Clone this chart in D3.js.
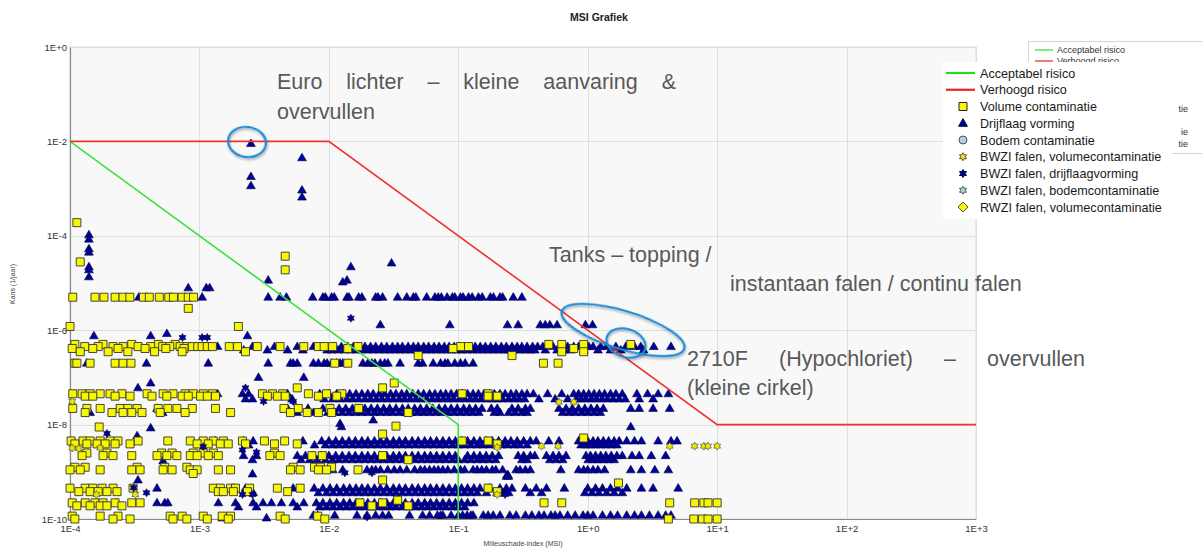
<!DOCTYPE html>
<html><head><meta charset="utf-8">
<script src="https://cdn.jsdelivr.net/npm/d3@7/dist/d3.min.js"></script>
<style>body{margin:0;background:#fff;overflow:hidden}svg{display:block;font-family:"Liberation Sans",Arial,sans-serif}</style>
</head><body><svg id="chart" width="1202" height="548"></svg>
<script>
// ---------- data ----------
const title = "MSI Grafiek";
const xTicks = [1e-4, 1e-3, 1e-2, 1e-1, 1, 10, 100, 1000];
const xTickLabels = ["1E-4", "1E-3", "1E-2", "1E-1", "1E+0", "1E+1", "1E+2", "1E+3"];
const yTicks = [1, 1e-2, 1e-4, 1e-6, 1e-8, 1e-10];
const yTickLabels = ["1E+0", "1E-2", "1E-4", "1E-6", "1E-8", "1E-10"];
const xTitle = "Milieuschade-index (MSI)";
const yTitle = "Kans (1/jaar)";

const acceptabelX = [1e-4, 1e-1, 1e-1];
const acceptabelY = [1e-2, 1e-8, 1e-10];
const verhoogdX = [1e-4, 1e-2, 10, 1000];
const verhoogdY = [1e-2, 1e-2, 1e-8, 1e-8];

const legendLabels = ["Acceptabel risico", "Verhoogd risico", "Volume contaminatie", "Drijflaag vorming",
  "Bodem contaminatie", "BWZI falen, volumecontaminatie", "BWZI falen, drijflaagvorming",
  "BWZI falen, bodemcontaminatie", "RWZI falen, volumecontaminatie"];
// fragments of the partly hidden (second) legend that remain visible
const hiddenLegendTails = [{row: 5, text: "tie"}, {row: 7, text: "ie"}, {row: 8, text: "tie"}];

// Drijflaag vorming (triangles): rows of equal probability
const drijflaagRows = [
  {y: 9e-3, x: [2.5e-3]},
  {y: 4.5e-3, x: [6.2e-3]},
  {y: 1.8e-3, x: [2.5e-3]},
  {y: 1.15e-3, x: [2.5e-3]},
  {y: 9.3e-4, x: [6.2e-3]},
  {y: 6.6e-4, x: [6.2e-3]},
  {y: 1.05e-4, x: [1.4e-4]},
  {y: 8.5e-5, x: [1.4e-4]},
  {y: 5.3e-5, x: [1.4e-4]},
  {y: 4.5e-5, x: [1.4e-4]},
  {y: 2.65e-5, x: [3.05e-2]},
  {y: 2.2e-5, x: [1.4e-4, 1.48e-2]},
  {y: 1.9e-5, x: [1.4e-4]},
  {y: 1.35e-5, x: [1.4e-4]},
  {y: 1.15e-5, x: [3.4e-3, 1.38e-2]},
  {y: 1.05e-5, x: [1.28e-2]},
  {y: 7.9e-6, x: [8.2e-4, 1.13e-3, 1.2e-3]},
  {y: 5e-6, x: [3.4e-4, 1.05e-3, 3.4e-3, 4.2e-3, 4.7e-3, 7.5e-3, 9.0e-3, 9.4e-3, 1.05e-2, 1.1e-2, 1.38e-2, 1.43e-2, 1.7e-2, 1.8e-2, 2.3e-2, 2.4e-2, 2.6e-2, 3.4e-2, 4.0e-2, 4.5e-2, 4.7e-2, 5.7e-2, 6.6e-2, 7.0e-2, 7.4e-2, 8.2e-2, 9.0e-2, 9.4e-2, 0.104, 0.109, 0.12, 0.128, 0.143, 0.153, 0.177, 0.187, 0.21, 0.22, 0.266, 0.31]},
  {y: 1.3e-6, x: [2.5e-2, 8.6e-2, 0.24, 0.29, 0.43, 0.47, 0.51, 0.58, 0.96, 1.09]},
  {y: 8.5e-7, x: [5.6e-4]},
  {y: 7.6e-7, x: [1.53e-4, 4.2e-4, 2.35e-3]},
  {y: 4.5e-7, x: [1.38e-3, 2.57e-3, 3.8e-3, 5.7e-3, 7.6e-3, 1.1e-2, 1.25e-2, 1.4e-2, 1.55e-2, 1.7e-2, 1.9e-2, 2.1e-2, 2.3e-2, 2.55e-2, 2.8e-2, 3.1e-2, 3.4e-2, 3.7e-2, 4.1e-2, 4.5e-2, 4.9e-2, 5.4e-2, 5.9e-2, 6.5e-2, 7.1e-2, 7.8e-2, 8.5e-2, 9.3e-2, 0.102, 0.112, 0.123, 0.135, 0.148, 0.162, 0.178, 0.195, 0.215, 0.235, 0.26, 0.285, 0.31, 0.34, 0.375, 0.41, 0.45, 0.54, 0.62, 0.7, 0.78, 0.85, 1.02, 1.1, 1.26, 1.4, 1.65, 1.97, 2.3, 2.57, 3.24, 4.4]},
  {y: 3.8e-7, x: [2.2e-3, 3.35e-3, 4.8e-3, 6.3e-3, 9.7e-3, 1.05e-2, 1.18e-2, 1.32e-2, 1.48e-2, 1.62e-2, 1.8e-2, 2.0e-2, 2.2e-2, 2.45e-2, 2.7e-2, 2.95e-2, 3.25e-2, 3.55e-2, 3.9e-2, 4.3e-2, 4.7e-2, 5.15e-2, 5.65e-2, 6.2e-2, 6.8e-2, 7.45e-2, 8.1e-2, 8.9e-2, 9.7e-2, 0.107, 0.117, 0.129, 0.141, 0.155, 0.17, 0.186, 0.205, 0.225, 0.245, 0.27, 0.3, 0.33, 0.36, 0.39, 0.47, 0.58, 0.66, 0.74, 0.93, 1.2, 1.5, 1.8, 2.7]},
  {y: 2e-7, x: [1.35e-4, 3.9e-4, 1.17e-3, 3.4e-3, 5.05e-3, 5.3e-3, 5.7e-3, 7.6e-3, 8.3e-3, 9.2e-3, 9.7e-3, 1.05e-2, 1.15e-2, 1.22e-2, 1.28e-2, 1.83e-2, 2.0e-2, 2.15e-2, 2.27e-2, 2.5e-2, 2.7e-2, 2.86e-2, 3.55e-2, 4.9e-2, 5.3e-2, 6.4e-2, 7.3e-2, 7.9e-2, 8.3e-2, 9.4e-2, 0.104, 0.113, 0.13]},
  {y: 1e-7, x: [2.86e-3, 6.4e-3]},
  {y: 7.6e-8, x: [4.2e-4]},
  {y: 6e-8, x: [3.35e-4]},
  {y: 4.5e-8, x: [1.38e-3, 2.15e-3, 2.4e-3, 4.8e-3, 8.5e-3, 1.0e-2, 1.15e-2, 1.3e-2, 1.45e-2, 1.62e-2, 1.8e-2, 2.0e-2, 2.2e-2, 2.45e-2, 2.7e-2, 3.0e-2, 3.3e-2, 3.65e-2, 4.0e-2, 4.45e-2, 4.9e-2, 5.4e-2, 6.0e-2, 6.6e-2, 7.3e-2, 8.0e-2, 8.8e-2, 9.7e-2, 0.107, 0.118, 0.13, 0.143, 0.158, 0.174, 0.19, 0.21, 0.23, 0.255, 0.28, 0.31, 0.34, 0.38, 0.49, 0.63, 0.78, 0.85, 0.93, 1.02, 1.12, 1.23, 1.35, 1.5, 1.65, 1.85, 2.4, 2.9, 3.5, 4.2]},
  {y: 3.5e-8, x: [2.27e-3, 2.57e-3, 5.2e-3, 9.2e-3, 1.07e-2, 1.22e-2, 1.38e-2, 1.53e-2, 1.7e-2, 1.9e-2, 2.1e-2, 2.33e-2, 2.57e-2, 2.85e-2, 3.15e-2, 3.5e-2, 3.85e-2, 4.25e-2, 4.7e-2, 5.15e-2, 5.7e-2, 6.3e-2, 6.95e-2, 7.65e-2, 8.4e-2, 9.2e-2, 0.102, 0.112, 0.124, 0.136, 0.15, 0.166, 0.182, 0.2, 0.22, 0.245, 0.27, 0.295, 0.325, 0.42, 0.56, 0.7, 0.82, 0.89, 0.97, 1.07, 1.17, 1.29, 1.42, 1.57, 1.75, 1.95, 2.5, 3.2]},
  {y: 2.2e-8, x: [4.7e-4, 4.8e-3, 6.9e-3, 9.0e-3, 1.05e-2, 1.2e-2, 1.35e-2, 1.52e-2, 1.7e-2, 1.9e-2, 2.12e-2, 2.37e-2, 2.65e-2, 2.95e-2, 3.3e-2, 3.7e-2, 4.1e-2, 4.6e-2, 5.1e-2, 5.7e-2, 6.35e-2, 7.1e-2, 7.9e-2, 8.8e-2, 9.8e-2, 0.11, 0.122, 0.136, 0.152, 0.18, 0.2, 0.26, 0.29, 0.33, 0.36, 0.6, 0.68, 0.76, 0.85, 0.95, 1.06, 1.18, 1.32, 2.15, 2.5, 3.2, 4.3]},
  {y: 1.8e-8, x: [1.43e-4, 5.2e-4, 5.7e-3, 7.6e-3, 9.8e-3, 1.12e-2, 1.27e-2, 1.43e-2, 1.6e-2, 1.8e-2, 2.0e-2, 2.25e-2, 2.5e-2, 2.8e-2, 3.1e-2, 3.5e-2, 3.9e-2, 4.35e-2, 4.85e-2, 5.4e-2, 6.0e-2, 6.7e-2, 7.5e-2, 8.3e-2, 9.3e-2, 0.104, 0.116, 0.129, 0.144, 0.19, 0.21, 0.245, 0.275, 0.31, 0.34, 0.64, 0.72, 0.8, 0.9, 1.0, 1.12, 1.25]},
  {y: 1.25e-8, x: [2.2e-2]},
  {y: 1.05e-8, x: [1.22e-2]},
  {y: 9e-9, x: [1.25e-2, 2.15]},
  {y: 8.5e-9, x: [4.2e-4]},
  {y: 5.8e-9, x: [3.3e-4]},
  {y: 4.5e-9, x: [1.33e-3, 2.19e-3, 2.6e-3, 6.3e-3, 8.8e-3, 1.0e-2, 1.13e-2, 1.27e-2, 1.43e-2, 1.6e-2, 1.8e-2, 2.0e-2, 2.25e-2, 2.5e-2, 2.8e-2, 3.15e-2, 3.5e-2, 3.9e-2, 4.4e-2, 4.9e-2, 5.5e-2, 6.1e-2, 6.8e-2, 7.6e-2, 8.5e-2, 9.5e-2, 0.106, 0.118, 0.132, 0.147, 0.164, 0.183, 0.205, 0.23, 0.255, 0.285, 0.32, 0.36, 0.4, 0.5, 0.6, 0.85, 0.93, 1.0, 1.1, 1.2, 1.32, 1.45, 1.6, 1.75, 2.0, 2.3, 2.6, 3.5, 4.4, 4.9]},
  {y: 3.7e-9, x: [2.4e-3, 7.75e-3, 9.4e-3, 1.07e-2, 1.2e-2, 1.35e-2, 1.52e-2, 1.7e-2, 1.9e-2, 2.12e-2, 2.37e-2, 2.65e-2, 2.97e-2, 3.3e-2, 3.7e-2, 4.15e-2, 4.65e-2, 5.2e-2, 5.8e-2, 6.45e-2, 7.2e-2, 8.0e-2, 9.0e-2, 0.1, 0.112, 0.125, 0.14, 0.155, 0.173, 0.194, 0.217, 0.24, 0.27, 0.3, 0.34, 0.89, 0.97, 1.05, 1.15, 1.26, 1.38, 1.52, 1.68]},
  {y: 2.2e-9, x: [2.19e-3, 2.76e-3, 5.7e-3, 6.6e-3, 7.6e-3, 8.7e-3, 1.0e-2, 1.13e-2, 1.27e-2, 1.43e-2, 1.6e-2, 1.8e-2, 2.0e-2, 2.25e-2, 2.5e-2, 2.8e-2, 3.15e-2, 3.5e-2, 3.9e-2, 4.4e-2, 4.9e-2, 5.5e-2, 6.1e-2, 6.8e-2, 7.6e-2, 8.5e-2, 9.5e-2, 0.118, 0.132, 0.147, 0.164, 0.183, 0.205, 0.29, 0.32, 0.36, 0.39, 0.48, 0.54, 0.6, 0.68, 0.97, 1.05, 1.15, 1.26, 1.38, 1.52, 1.68, 1.85, 2.2, 2.5, 3.1, 4.0]},
  {y: 1.8e-9, x: [2.57e-3, 6.1e-3, 7.1e-3, 8.1e-3, 9.4e-3, 1.07e-2, 1.2e-2, 1.35e-2, 1.52e-2, 1.7e-2, 1.9e-2, 2.12e-2, 2.37e-2, 2.65e-2, 2.97e-2, 3.3e-2, 3.7e-2, 4.15e-2, 4.65e-2, 5.2e-2, 5.8e-2, 6.45e-2, 7.2e-2, 8.0e-2, 9.0e-2, 0.1, 0.112, 0.125, 0.14, 0.155, 0.173, 0.194, 0.31, 0.34, 0.51, 0.57, 0.64, 1.01, 1.1, 1.2, 1.32, 1.45, 1.6]},
  {y: 1.7e-9, x: [5.24e-4]},
  {y: 1.1e-9, x: [1.07e-2, 1.28e-2, 1.97e-2, 2.15e-2, 2.3e-2, 2.5e-2, 2.85e-2, 3.2e-2, 3.55e-2, 4.0e-2, 4.6e-2, 5.1e-2, 5.5e-2, 6.0e-2, 6.5e-2, 7.0e-2, 7.6e-2, 8.3e-2, 9.3e-2, 0.104, 0.112, 0.13, 0.14, 0.152, 0.165, 0.183, 0.195, 0.22, 0.28, 0.3, 0.33, 0.36, 0.62, 0.85, 0.93, 1.0, 1.1, 1.2, 1.35, 2.15, 2.6, 3.3, 4.2]},
  {y: 9e-10, x: [2.57e-3]},
  {y: 8.6e-10, x: [0.238, 0.242]},
  {y: 8e-10, x: [0.236, 0.244]},
  {y: 6.7e-10, x: [3.35e-4]},
  {y: 4.5e-10, x: [4.7e-4, 2.27e-3, 5.3e-3, 7.7e-3, 9.0e-3, 1.02e-2, 1.15e-2, 1.3e-2, 1.45e-2, 1.62e-2, 1.8e-2, 2.0e-2, 2.25e-2, 2.5e-2, 2.8e-2, 3.15e-2, 3.5e-2, 3.9e-2, 4.4e-2, 4.9e-2, 5.5e-2, 6.1e-2, 6.8e-2, 7.6e-2, 8.5e-2, 9.5e-2, 0.106, 0.118, 0.132, 0.147, 0.175, 0.21, 0.235, 0.26, 0.33, 0.4, 0.48, 0.66, 1.0, 1.15, 1.3, 1.5, 1.7, 2.0, 2.6, 3.2, 5.0]},
  {y: 3.6e-10, x: [2.6e-3, 8.3e-3, 9.6e-3, 1.08e-2, 1.22e-2, 1.37e-2, 1.53e-2, 1.71e-2, 1.9e-2, 2.12e-2, 2.37e-2, 2.65e-2, 2.97e-2, 3.3e-2, 3.7e-2, 4.15e-2, 4.65e-2, 5.2e-2, 5.8e-2, 6.45e-2, 7.2e-2, 8.0e-2, 9.0e-2, 0.1, 0.112, 0.125, 0.14, 0.165, 0.2, 0.225, 0.245, 0.36, 0.44, 0.95, 1.08, 1.22, 1.4, 1.6, 1.85]},
  {y: 2.2e-10, x: [2.3e-4, 4.7e-4, 5.4e-4, 5.7e-4, 1.4e-3, 1.9e-3, 2.6e-3, 3.1e-3, 3.6e-3, 4.3e-3, 5.3e-3, 6.4e-3, 8.0e-3, 9.0e-3, 1.02e-2, 1.15e-2, 1.3e-2, 1.45e-2, 1.62e-2, 1.8e-2, 2.0e-2, 2.25e-2, 2.5e-2, 2.8e-2, 3.15e-2, 3.5e-2, 3.9e-2, 4.4e-2, 4.9e-2, 5.5e-2, 6.1e-2, 6.8e-2, 7.6e-2, 8.5e-2, 9.5e-2, 0.106, 0.118, 0.132]},
  {y: 1.8e-10, x: [2.0e-3, 2.76e-3, 5.7e-3, 8.5e-3, 9.6e-3, 1.08e-2, 1.22e-2, 1.37e-2, 1.53e-2, 1.71e-2, 1.9e-2, 2.12e-2, 2.37e-2, 2.65e-2, 2.97e-2, 3.3e-2, 3.7e-2, 4.15e-2, 4.65e-2, 5.2e-2, 5.8e-2, 6.45e-2, 7.2e-2, 8.0e-2, 9.0e-2, 0.1, 0.112]},
  {y: 1.2e-10, x: [7.6e-3, 8.2e-3, 1.11e-2, 1.65e-2, 1.97e-2, 2.3e-2, 2.6e-2, 2.9e-2, 4.2e-2, 5.3e-2, 6.0e-2, 6.9e-2, 7.3e-2, 7.6e-2, 8.8e-2, 0.1, 0.108, 0.117, 0.125, 0.13, 0.156, 0.17, 0.186, 0.21, 0.25, 0.28, 0.33, 0.37, 0.42, 0.46, 0.52, 0.56, 0.61, 0.7, 0.8, 0.92, 1.0, 1.1, 1.3, 1.5, 1.7, 2.0, 2.3, 2.6, 3.0, 3.5, 4.0, 4.4]},
  {y: 1.05e-10, x: [1.5e-3, 3.3e-3]}
];

// Volume contaminatie (squares)
const volumeRows = [
  {y: 1.9e-4, x: [1.13e-4]},
  {y: 3.7e-5, x: [4.6e-3]},
  {y: 2.8e-5, x: [1.2e-4]},
  {y: 1.9e-5, x: [4.6e-3]},
  {y: 5e-6, x: [1.05e-4, 1.56e-4, 1.83e-4, 2.23e-4, 2.57e-4, 2.9e-4, 3.7e-4, 4.1e-4, 4.9e-4, 5.8e-4, 6.3e-4, 7.35e-4, 8.2e-4, 9.0e-4]},
  {y: 2.9e-6, x: [8.2e-4]},
  {y: 1.2e-6, x: [1e-4, 2.0e-3]},
  {y: 5e-7, x: [1.09e-4, 1.8e-4, 3.0e-4, 4.8e-4, 6.5e-4, 0.5, 0.63, 0.93, 2.15]},
  {y: 4.5e-7, x: [1.3e-4, 1.65e-4, 2.15e-4, 2.57e-4, 3.36e-4, 4.2e-4, 5.2e-4, 5.9e-4, 7.1e-4, 8.0e-4, 8.8e-4, 9.7e-4, 1.05e-3, 1.15e-3, 1.26e-3, 1.7e-3, 1.97e-3, 2.8e-3, 4.2e-3, 6.4e-3, 8.3e-3, 9.2e-3, 1.07e-2, 1.68e-2, 0.104, 0.12]},
  {y: 4.1e-7, x: [1.04e-4, 1.5e-4, 2.35e-4, 3.8e-4, 5.5e-4, 7.6e-4, 1.4e-2, 9.1e-2, 0.78]},
  {y: 3.5e-7, x: [1.2e-4, 1.97e-4, 2.8e-4, 4.5e-4, 7.35e-4, 2.27e-3, 0.63, 0.93]},
  {y: 2.9e-7, x: [4.9e-2, 0.26]},
  {y: 2e-7, x: [1.09e-4, 1.13e-4, 1.43e-4, 2.23e-4, 2.57e-4, 2.96e-4, 1.11e-2, 1.4e-2, 0.455, 0.59]},
  {y: 7.6e-8, x: [3.2e-2]},
  {y: 6e-8, x: [5.7e-3, 2.6e-2]},
  {y: 4.5e-8, x: [1.05e-4, 1.24e-4, 1.43e-4, 1.71e-4, 2.04e-4, 2.52e-4, 3.94e-4, 5.24e-4, 6.25e-4, 7.75e-4, 8.95e-4, 1.07e-3, 1.26e-3, 3.07e-3, 3.67e-3, 4.4e-3, 6.95e-3, 9.6e-3, 1.26e-2, 0.107, 0.17]},
  {y: 4e-8, x: [1.31e-4, 1.5e-4, 2.23e-4, 2.91e-4, 4.3e-4, 5.6e-4, 7.35e-4, 8.2e-4, 1.02e-3, 1.15e-3, 1.33e-3, 3.35e-3, 4.0e-3, 4.6e-3, 8.3e-3, 1.15e-2, 0.17, 0.2]},
  {y: 2.2e-8, x: [1.05e-4, 1.35e-4, 1.71e-4, 2.44e-4, 2.8e-4, 3.3e-4, 4.8e-4, 5.7e-4, 6.7e-4, 8.8e-4, 1.33e-3, 4.5e-3, 5.8e-3, 1.02e-2, 1.7e-2]},
  {y: 1.8e-8, x: [1.31e-4, 2.11e-4, 2.57e-4, 3.0e-4, 3.6e-4, 4.97e-4, 7.75e-4, 1.74e-3, 5.05e-3, 6.8e-3, 8.3e-3, 1.05e-2, 4.1e-2]},
  {y: 9.3e-9, x: [3.3e-2]},
  {y: 8.9e-9, x: [1.68e-4]},
  {y: 6.3e-9, x: [2.6e-2]},
  {y: 5.2e-9, x: [0.93]},
  {y: 4.5e-9, x: [1.02e-4, 1.26e-4, 1.43e-4, 1.71e-4, 2.04e-4, 2.35e-4, 3.36e-4, 5.7e-4, 8.5e-4, 1.07e-3, 1.28e-3, 1.53e-3, 2.15e-3, 3.18e-3, 4.55e-3, 0.107, 0.17]},
  {y: 3.9e-9, x: [1.09e-4, 1.35e-4, 1.62e-4, 1.87e-4, 2.23e-4, 2.91e-4, 9.6e-4, 1.17e-3, 1.45e-3, 1.67e-3, 2.27e-3, 3.8e-3, 5.7e-3, 0.2]},
  {y: 2.5e-9, x: [1.35e-4, 1.93e-4, 5.1e-4, 6.15e-4, 8.95e-4, 1.07e-3, 1.28e-3, 3.8e-3]},
  {y: 2.2e-9, x: [1.24e-4, 1.8e-4, 2.15e-4, 3.0e-4, 4.7e-4, 5.6e-4, 6.7e-4, 8.5e-4, 9.6e-4, 1.17e-3, 1.4e-3, 3.5e-3, 4.2e-3, 7.4e-3, 8.9e-3, 2.6e-2]},
  {y: 1.8e-9, x: [4.1e-2]},
  {y: 1.25e-9, x: [1.09e-4, 1.31e-4, 3.3e-4, 5.4e-4, 8.0e-4, 5.3e-3, 7.75e-3, 8.6e-3, 1.05e-2]},
  {y: 1.1e-9, x: [1.0e-4, 1.2e-4, 1.71e-4, 3.0e-4, 3.48e-4, 5.24e-4, 6.15e-4, 8.5e-4, 9.6e-4, 1.4e-3, 1.74e-3, 5.05e-3, 6.0e-3, 8.3e-3, 9.6e-3, 1.68e-2]},
  {y: 9.2e-10, x: [8.95e-4]},
  {y: 6.7e-10, x: [2.6e-2]},
  {y: 5.8e-10, x: [1.73]},
  {y: 4.5e-10, x: [1.0e-4, 1.31e-4, 1.5e-4, 1.77e-4, 2.15e-4, 3.07e-4, 1.28e-3, 1.45e-3, 1.74e-3, 1.9e-3, 2.44e-3, 4.0e-3, 6.0e-3, 0.17]},
  {y: 3.8e-10, x: [1.17e-4, 1.43e-4, 1.65e-4, 1.93e-4, 2.31e-4, 1.4e-3, 1.53e-3, 1.83e-3, 2.35e-3, 4.8e-3, 0.2]},
  {y: 2.5e-10, x: [3.4e-2]},
  {y: 2.2e-10, x: [1.04e-4, 1.31e-4, 1.56e-4, 1.8e-4, 2.23e-4, 3.0e-4, 3.48e-4, 1.74e-2, 2.6e-2, 0.46, 0.63, 4.3, 6.7, 7.9, 8.5, 10]},
  {y: 1.9e-10, x: [1.13e-4, 1.43e-4, 1.71e-4, 1.93e-4, 2.52e-4, 2.15e-2, 4.1e-2]},
  {y: 1.15e-10, x: [1.04e-4, 1.71e-4, 2.35e-4, 5.94e-4, 7.35e-4, 1.07e-3, 1.5e-3, 1.74e-3, 4.2e-3, 8.2e-3]},
  {y: 1e-10, x: [1.09e-4, 2.15e-4, 2.91e-4, 6.25e-4, 8.0e-4, 1.15e-3, 1.67e-3, 4.6e-3, 9.3e-3, 4.2, 6.6, 7.7, 8.5, 10]}
];

// BWZI falen, volumecontaminatie (yellow stars) [x, y]
const bwziVolumePoints = [[1.04e-4, 3.1e-8], [1.04e-4, 3.2e-9], [1.17e-4, 3.1e-9], [1.71e-4, 3.2e-9],
  [1.6e-4, 3.3e-10], [3.2e-4, 3.3e-10], [0.2, 3.3e-9], [0.2, 3.3e-10], [0.44, 3.5e-9], [0.59, 3.5e-9],
  [0.6, 3.0e-8], [0.78, 3.0e-8], [4.3, 3.5e-9], [6.7, 3.5e-9], [7.9, 3.5e-9], [8.5, 3.5e-9], [10, 3.5e-9]];
// BWZI falen, drijflaagvorming (navy stars) [x, y]
const bwziDrijfPoints = [[7.4e-4, 7e-7], [1.05e-3, 7e-7], [1.15e-3, 7e-7], [1.48e-2, 1.8e-6],
  [2.27e-3, 6e-8], [3.13e-3, 3.1e-8], [5.3e-3, 3.1e-8], [1.93e-4, 6.5e-9], [1.07e-3, 3.4e-9],
  [2.15e-3, 2.9e-9], [2.76e-3, 2.6e-9], [3.1e-4, 4.6e-10], [3.9e-4, 3.6e-10], [2.15e-3, 3.3e-10],
  [2.57e-3, 3.3e-10], [1.33e-2, 9.5e-10], [2.15e-2, 9.5e-10], [0.23, 3.3e-10], [1.97e-2, 1.1e-10]];

// ---------- drawing ----------
const svg = d3.select("#chart");
const L = 70, R = 976, T = 47, B = 519;
const x = d3.scaleLog().domain([1e-4, 1e3]).range([L, R]);
const y = d3.scaleLog().domain([1e-10, 1]).range([B, T]);

svg.append("text").attr("x", 599).attr("y", 21).attr("text-anchor", "middle")
  .attr("font-size", 10.5).attr("font-weight", "bold").attr("fill", "#222").text(title);

svg.append("rect").attr("x", L).attr("y", T).attr("width", R - L).attr("height", B - T)
  .attr("fill", "#f8f8f8").attr("stroke", "#dcdcdc");

const grid = svg.append("g").attr("stroke", "#dedede").attr("stroke-width", 1);
grid.selectAll("line.v").data(xTicks.slice(1)).join("line")
  .attr("x1", d => Math.round(x(d)) + 0.5).attr("x2", d => Math.round(x(d)) + 0.5).attr("y1", T).attr("y2", B);
grid.selectAll("line.h").data(yTicks.slice(0, -1)).join("line")
  .attr("y1", d => Math.round(y(d)) + 0.5).attr("y2", d => Math.round(y(d)) + 0.5).attr("x1", L).attr("x2", R);

// axes
const xAxis = d3.axisBottom(x).tickValues(xTicks).tickSize(0).tickPadding(6)
  .tickFormat((d, i) => xTickLabels[i]);
const gx = svg.append("g").attr("transform", `translate(0,${B})`).call(xAxis);
gx.select(".domain").attr("stroke", "#8a8a8a").attr("stroke-width", 1.2);
gx.selectAll("text").attr("font-size", 9.5).attr("fill", "#333").attr("font-family", "Liberation Sans, Arial");

const yAxis = d3.axisLeft(y).tickValues(yTicks).tickSize(0).tickPadding(3)
  .tickFormat((d, i) => yTickLabels[i]);
const gy = svg.append("g").attr("transform", `translate(${L},0)`).call(yAxis);
gy.select(".domain").attr("stroke", "#8a8a8a").attr("stroke-width", 1.2);
gy.selectAll("text").attr("font-size", 9.5).attr("fill", "#333").attr("font-family", "Liberation Sans, Arial");

svg.append("text").attr("x", 523).attr("y", 546).attr("text-anchor", "middle")
  .attr("font-size", 7).attr("fill", "#444").text(xTitle);
svg.append("text").attr("transform", "translate(15,284) rotate(-90)").attr("text-anchor", "middle")
  .attr("font-size", 7).attr("fill", "#444").text(yTitle);

// symbol paths
const triPath = "M0,-4.6L4.4,3L-4.4,3Z";
const sqPath = "M-4,-4H4V4H-4Z";
function starPath(R1, r1) {
  const pts = d3.range(12).map(i => {
    const a = -Math.PI / 2 + i * Math.PI / 6, rr = i % 2 ? r1 : R1;
    return [rr * Math.cos(a), rr * Math.sin(a)];
  });
  return "M" + pts.map(p => p[0].toFixed(2) + "," + p[1].toFixed(2)).join("L") + "Z";
}
const star = starPath(4, 2.3);
const flatten = rows => rows.flatMap(r => r.x.map(v => [v, r.y]));

const plot = svg.append("g");
plot.selectAll("path.tri").data(flatten(drijflaagRows)).join("path").attr("class", "tri")
  .attr("d", triPath).attr("transform", d => `translate(${x(d[0])},${y(d[1])})`)
  .attr("fill", "#00009c").attr("stroke", "#000040").attr("stroke-width", 0.6);
plot.selectAll("path.sq").data(flatten(volumeRows)).join("path").attr("class", "sq")
  .attr("d", sqPath).attr("transform", d => `translate(${x(d[0])},${y(d[1])})`)
  .attr("fill", "#f7f700").attr("stroke", "#333").attr("stroke-width", 0.9);
plot.selectAll("path.sv").data(bwziVolumePoints).join("path").attr("class", "sv")
  .attr("d", star).attr("transform", d => `translate(${x(d[0])},${y(d[1])})`)
  .attr("fill", "#e8e800").attr("stroke", "#555").attr("stroke-width", 0.7);
plot.selectAll("path.sd").data(bwziDrijfPoints).join("path").attr("class", "sd")
  .attr("d", star).attr("transform", d => `translate(${x(d[0])},${y(d[1])})`)
  .attr("fill", "#00009c").attr("stroke", "#000040").attr("stroke-width", 0.6);

// risk lines
const line = d3.line().x(d => x(d[0])).y(d => y(d[1]));
svg.append("path").datum(acceptabelX.map((v, i) => [v, acceptabelY[i]])).attr("d", line)
  .attr("fill", "none").attr("stroke", "#3ee03e").attr("stroke-width", 1.6);
svg.append("path").datum(verhoogdX.map((v, i) => [v, verhoogdY[i]])).attr("d", line)
  .attr("fill", "none").attr("stroke", "#f23030").attr("stroke-width", 1.6);

// background (mostly hidden) legend: only its visible parts
const defs = svg.append("defs");
defs.append("clipPath").attr("id", "topclip").append("rect")
  .attr("x", 1020).attr("y", 30).attr("width", 190).attr("height", 32);
const bl = svg.append("g");
bl.append("rect").attr("x", 1028.5).attr("y", 41.5).attr("width", 190).attr("height", 112)
  .attr("fill", "#fff").attr("stroke", "#d4d4d4");
[0, 1].forEach(i => {
  const yy = 50 + i * 11;
  const g = bl.append("g").attr("clip-path", "url(#topclip)");
  g.append("line").attr("x1", 1035).attr("x2", 1053).attr("y1", yy).attr("y2", yy)
    .attr("stroke", i === 0 ? "#3ee03e" : "#f23030").attr("stroke-width", 1.3);
  g.append("text").attr("x", 1057).attr("y", yy + 3).attr("font-size", 9).attr("fill", "#333").text(legendLabels[i]);
});
hiddenLegendTails.forEach(t => {
  bl.append("text").attr("x", 1188).attr("y", 50 + t.row * 11.7 + 3).attr("text-anchor", "end")
    .attr("font-size", 9).attr("fill", "#333").text(t.text);
});

// foreground legend
const fl = svg.append("g");
fl.append("rect").attr("x", 943).attr("y", 62).attr("width", 229).attr("height", 157).attr("fill", "#fff");
const legendShapes = [
  {type: "line", color: "#22dd22"}, {type: "line", color: "#ee2222"},
  {type: "path", d: sqPath, fill: "#f7f700", stroke: "#222"},
  {type: "path", d: triPath, fill: "#00009c", stroke: "#000040"},
  {type: "circle", fill: "#a9d3d9", stroke: "#555"},
  {type: "path", d: star, fill: "#e8e800", stroke: "#555"},
  {type: "path", d: star, fill: "#00009c", stroke: "#000040"},
  {type: "path", d: star, fill: "#a9d3d9", stroke: "#555"},
  {type: "path", d: "M0,-5L5,0L0,5L-5,0Z", fill: "#f7f700", stroke: "#555"}
];
legendLabels.forEach((t, i) => {
  const yy = 73 + i * 16.75, s = legendShapes[i];
  if (s.type === "line") fl.append("line").attr("x1", 946).attr("x2", 975).attr("y1", yy).attr("y2", yy)
    .attr("stroke", s.color).attr("stroke-width", 2.2);
  else if (s.type === "circle") fl.append("circle").attr("cx", 963).attr("cy", yy).attr("r", 4)
    .attr("fill", s.fill).attr("stroke", s.stroke).attr("stroke-width", 1);
  else fl.append("path").attr("d", s.d).attr("transform", `translate(963,${yy})`)
    .attr("fill", s.fill).attr("stroke", s.stroke).attr("stroke-width", 1);
  fl.append("text").attr("x", 980).attr("y", yy + 4.5).attr("font-size", 12.6).attr("fill", "#1a1a1a").text(t);
});

// annotations
const notes = [
  {words: ["Euro", "lichter", "–", "kleine", "aanvaring", "&"], x0: 277, x1: 676, y: 89},
  {words: ["overvullen"], x0: 277, y: 119},
  {words: ["Tanks – topping /"], x0: 549, y: 262},
  {words: ["instantaan falen / continu falen"], x0: 730, y: 291},
  {words: ["2710F", "(Hypochloriet)", "–", "overvullen"], x0: 687, x1: 1085, y: 366},
  {words: ["(kleine cirkel)"], x0: 687, y: 395}
];
const ann = svg.append("g").attr("font-size", 21.5).attr("fill", "#595959");
notes.forEach(n => {
  const els = n.words.map(w => ann.append("text").attr("y", n.y).text(w));
  if (n.words.length === 1) { els[0].attr("x", n.x0); return; }
  const widths = els.map(e => e.node().getComputedTextLength());
  const gap = (n.x1 - n.x0 - d3.sum(widths)) / (els.length - 1);
  let cx = n.x0;
  els.forEach((e, i) => { e.attr("x", cx); cx += widths[i] + gap; });
});

// highlight ellipses
const f = defs.append("filter").attr("id", "sh").attr("x", "-20%").attr("y", "-20%").attr("width", "140%").attr("height", "140%");
f.append("feDropShadow").attr("dx", 1).attr("dy", 1.5).attr("stdDeviation", 1.2)
  .attr("flood-color", "#000").attr("flood-opacity", 0.35);
const ellipses = [
  {cx: 247, cy: 142, rx: 19, ry: 15, rot: 8},
  {cx: 623, cy: 330, rx: 64, ry: 19, rot: 17},
  {cx: 626, cy: 343, rx: 20, ry: 14, rot: 18}
];
svg.append("g").selectAll("ellipse").data(ellipses).join("ellipse")
  .attr("cx", 0).attr("cy", 0).attr("rx", d => d.rx).attr("ry", d => d.ry)
  .attr("transform", d => `translate(${d.cx},${d.cy}) rotate(${d.rot})`)
  .attr("fill", "none").attr("stroke", "#1b8bd3").attr("stroke-width", 2.2).attr("filter", "url(#sh)");
</script></body></html>
